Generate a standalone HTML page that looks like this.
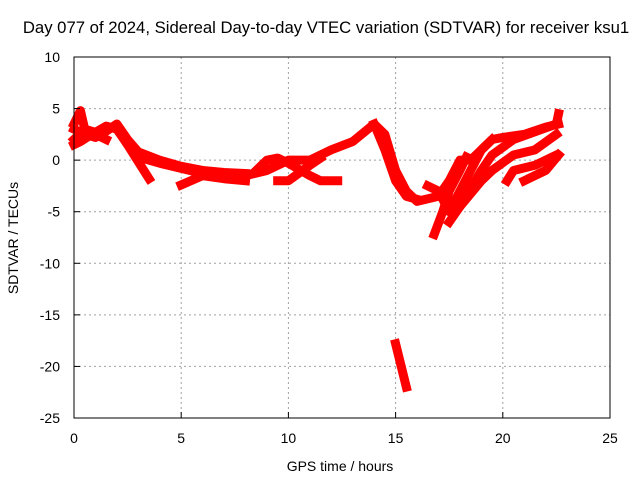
<!DOCTYPE html>
<html><head><meta charset="utf-8"><style>
body{margin:0;background:#fff}
svg text{font-family:"Liberation Sans",sans-serif;font-size:14px;fill:#000}
</style></head><body>
<svg id="chart" width="640" height="480">
<rect width="640" height="480" fill="#fff"/>
<g id="grid"></g>
<g id="series"></g>
<rect x="74" y="57" width="536" height="361" fill="none" stroke="#000"/>
<g id="ticks"></g>
<text x="326" y="33" text-anchor="middle" style="font-size:16.7px">Day 077 of 2024, Sidereal Day-to-day VTEC variation (SDTVAR) for receiver ksu1</text>
<text x="340" y="471" text-anchor="middle">GPS time / hours</text>
<text x="18" y="238" text-anchor="middle" transform="rotate(-90 18 238)">SDTVAR / TECUs</text>
</svg>
<script>
const xTicks=[0,5,10,15,20,25];
const yTicks=[10,5,0,-5,-10,-15,-20,-25];
const t1x=[0,0.5,1,1.5,2,2.5,3,4,5,6,7,8,9,10,11,12,13,14,14.5,15,15.5,16,17,17.5,18,18.5,19,19.5,20,21,22,22.6];
const t1y=[2,3,2.7,3.3,3,1.5,0.3,-0.3,-0.8,-1.3,-1.5,-1.5,-1,0,0,1,1.8,3.5,2.5,-1,-3,-4,-3.5,-2,0,0,1,2,2.2,2.5,3.2,3.5];
const t1bx=[0,0.5,1,1.5,2,2.5,3,4,5,6,7,8];
const t1by=[3,2.5,2.2,2.8,3.5,2,0.8,0,-0.6,-1,-1.2,-1.3];
const t2x=[0,0.3,0.5,1,1.5];const t2y=[3.5,4.8,3,2.5,2];
const t2bx=[0,0.3,0.6];const t2by=[1.5,1.8,2.2];
const t3x=[2.2,2.8,3.5];const t3y=[2.5,0.5,-1.8];
const t4x=[5,6,7,8];const t4y=[-2.4,-1.5,-1.8,-2];
const t5x=[8.5,9,9.5,10,11,11.5,12.3];const t5y=[-1,0,0.2,-0.3,-1.5,-2,-2];
const t6x=[9.5,10,11,11.5];const t6y=[-2,-2,-0.5,0.2];
const t7x=[14,14.5,15,15.5,16];const t7y=[3.5,1,-2,-3.5,-3.8];
const t8x=[16.5,17,17.5,18,18.5,19,19.5];const t8y=[-2.5,-3,-5,-3,-1,1,2];
const t9x=[16.8,17.2,17.5,18,18.3];const t9y=[-7.2,-5,-3,-1,0.3];
const t10x=[17.5,18,19,19.5,20.5,22.5,22.6];const t10y=[-6,-4.5,-1,0.5,2,3.5,4.5];
const t11x=[18,19,19.5,20.5,21.5,22.5];const t11y=[-4.5,-2,-1,0.5,1,2.5];
const t12x=[20.2,20.5,21.5,22,22.5];const t12y=[-2,-1,-0.5,0,0.5];
const t13x=[21,21.5,22,22.6];const t13y=[-2,-1.5,-1,0.5];
const t14x=[15,15.5];const t14y=[-17.8,-22];
const tracks=[[t1x,t1y],[t1bx,t1by],[t2x,t2y],[t2bx,t2by],[t3x,t3y],[t4x,t4y],[t5x,t5y],[t6x,t6y],[t7x,t7y],[t8x,t8y],[t9x,t9y],[t10x,t10y],[t11x,t11y],[t12x,t12y],[t13x,t13y],[t14x,t14y]];
const NS='http://www.w3.org/2000/svg';
const X=v=>74+v*536/25;
const Y=v=>57+(10-v)*361/35;
const grid=document.getElementById('grid'),tk=document.getElementById('ticks'),ser=document.getElementById('series');
function mk(tag,attrs,parent){const e=document.createElementNS(NS,tag);for(const k in attrs)e.setAttribute(k,attrs[k]);parent.appendChild(e);return e;}
xTicks.forEach(v=>{
 if(v>0&&v<25){const g=mk('line',{x1:X(v),x2:X(v),y1:57,y2:418,stroke:'#a0a0a0','stroke-dasharray':'2,3'},grid);
 
 }
 mk('line',{x1:X(v),x2:X(v),y1:418,y2:412,stroke:'#000'},tk);
 const t=mk('text',{x:X(v),y:443,'text-anchor':'middle'},tk);t.textContent=v;
 
 
});
yTicks.forEach(v=>{
 if(v<10&&v>-25){const g=mk('line',{x1:74,x2:610,y1:Y(v),y2:Y(v),stroke:'#a0a0a0','stroke-dasharray':'2,3'},grid);
 
 }
 mk('line',{x1:74,x2:80,y1:Y(v),y2:Y(v),stroke:'#000'},tk);
 const t=mk('text',{x:60,y:Y(v)+5,'text-anchor':'end'},tk);t.textContent=v;
 
 
});
tracks.forEach(tr=>{
 const pts=tr[0].map((x,i)=>X(x)+','+Y(tr[1][i])).join(' ');
 const p=mk('polyline',{points:pts,fill:'none',stroke:'#ff0000','stroke-width':9,'stroke-linejoin':'round','stroke-linecap':'square'},ser);
 
 
});
</script>
</body></html>
